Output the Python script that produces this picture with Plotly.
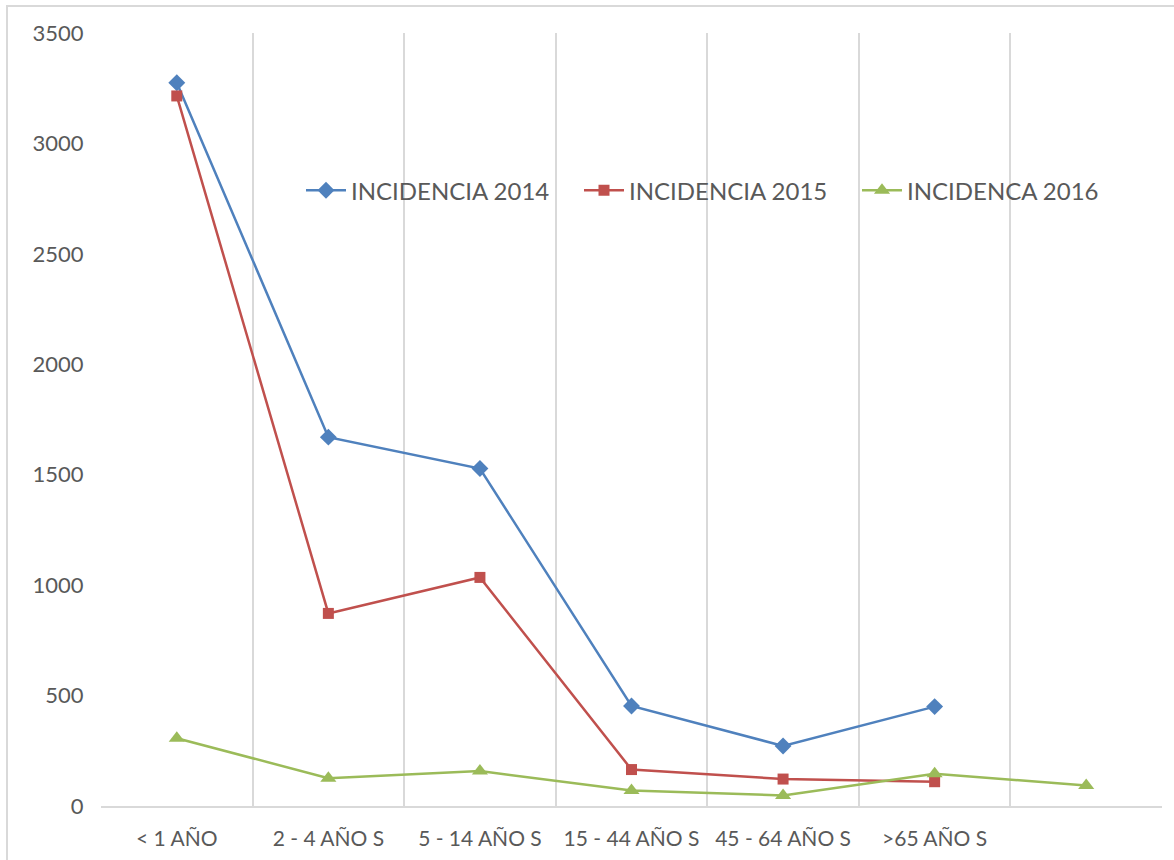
import plotly.graph_objects as go

# Age groups (the last slot carries only a 2016 value and no label)
categories = ["< 1 AÑO", "2 - 4 AÑO S", "5 - 14 AÑO S", "15 - 44 AÑO S",
              "45 - 64 AÑO S", ">65 AÑO S", ""]

incidencia_2014 = [3275, 1670, 1528, 453, 272, 450, None]
incidencia_2015 = [3215, 872, 1035, 165, 122, 110, None]
incidencia_2016 = [307, 126, 158, 70, 48, 146, 93]

y_ticks = [0, 500, 1000, 1500, 2000, 2500, 3000, 3500]

x_pos = list(range(len(categories)))
boundaries = [i - 0.5 for i in range(len(categories) + 1)]

FONT = "Lato"
TEXT = "#595959"
GRID = "#D9D9D9"

series = [
    ("INCIDENCIA 2014", incidencia_2014, "#4F81BD", "diamond", 13),
    ("INCIDENCIA 2015", incidencia_2015, "#C0504D", "square", 11),
    ("INCIDENCA 2016", incidencia_2016, "#9BBB59", "triangle-up", 14),
]

fig = go.Figure()
for name, values, color, symbol, size in series:
    fig.add_trace(go.Scatter(
        x=x_pos, y=values, name=name, mode="lines+markers",
        line=dict(color=color, width=2.5),
        marker=dict(color=color, symbol=symbol, size=size),
        connectgaps=False,
    ))

fig.update_layout(
    width=1174, height=860,
    margin=dict(l=101, r=12, t=33, b=54, autoexpand=False),
    paper_bgcolor="white", plot_bgcolor="white",
    font=dict(family=FONT, color=TEXT, size=22),
    showlegend=True,
    legend=dict(
        orientation="h", x=0.1885, y=0.796, xanchor="left", yanchor="middle",
        bgcolor="rgba(0,0,0,0)", font=dict(family=FONT, size=24, color=TEXT),
        itemwidth=40, entrywidth=223,
    ),
    xaxis=dict(
        range=[-0.5, len(categories) - 0.5],
        tickmode="array", tickvals=x_pos, ticktext=categories,
        tickfont=dict(family=FONT, size=21, color=TEXT),
        ticks="outside", ticklen=13, tickcolor="rgba(0,0,0,0)",
        showgrid=False, zeroline=False,
        showline=True, linecolor=GRID, linewidth=1.5,
        minor=dict(tickmode="array", tickvals=boundaries, showgrid=True,
                   gridcolor=GRID, gridwidth=1.5, ticks=""),
        fixedrange=True,
    ),
    yaxis=dict(
        range=[0, 3500], tickmode="array", tickvals=y_ticks,
        tickfont=dict(family=FONT, size=22, color=TEXT),
        ticks="outside", ticklen=12, tickcolor="rgba(0,0,0,0)",
        showgrid=False, zeroline=False, showline=False,
        fixedrange=True,
    ),
    shapes=[dict(
        type="rect", xref="paper", yref="paper",
        x0=-0.0886, x1=1.03, y0=-0.1, y1=1.0349,
        line=dict(color="#D9D9D9", width=2), fillcolor="rgba(0,0,0,0)",
        layer="below",
    )],
)

fig.write_html("out.html")
